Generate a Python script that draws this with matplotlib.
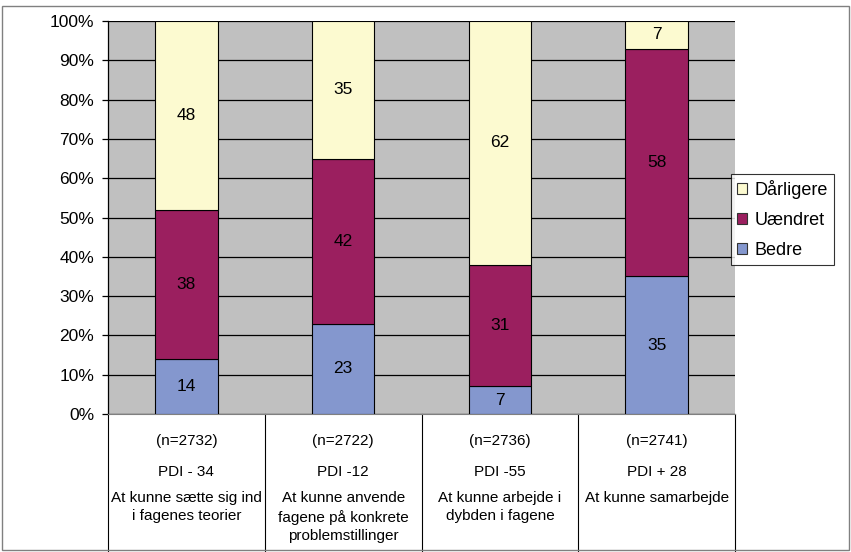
import matplotlib
matplotlib.use("Agg")
import matplotlib.pyplot as plt
from matplotlib.patches import Rectangle

categories_n = ["(n=2732)", "(n=2722)", "(n=2736)", "(n=2741)"]
categories_pdi = ["PDI - 34", "PDI -12", "PDI -55", "PDI + 28"]
categories_desc = ["At kunne sætte sig ind\ni fagenes teorier",
                   "At kunne anvende\nfagene på konkrete\nproblemstillinger",
                   "At kunne arbejde i\ndybden i fagene",
                   "At kunne samarbejde"]
bedre = [14, 23, 7, 35]
uaendret = [38, 42, 31, 58]
darligere = [48, 35, 62, 7]
series_names = ["Bedre", "Uændret", "Dårligere"]
colors = ["#8497CE", "#9B1F5F", "#FCFAD0"]

plt.rcParams['font.family'] = ["Liberation Sans", 'DejaVu Sans']

W, H = 851, 552
fig = plt.figure(figsize=(W / 100, H / 100), dpi=100)
L, R, T, B = 108, 735, 21, 414
ax = fig.add_axes([L / W, (H - B) / H, (R - L) / W, (B - T) / H])
ax.set_facecolor("#C0C0C0")

x = list(range(len(bedre)))
bw = 0.4
bottoms = [0] * len(x)
for vals, name, col in zip([bedre, uaendret, darligere], series_names, colors):
    ax.bar(x, vals, bw, bottom=bottoms, color=col, edgecolor="black", linewidth=0.8,
           label=name, zorder=3)
    for xi, v, b in zip(x, vals, bottoms):
        ax.text(xi, b + v / 2, str(v), ha="center", va="center", fontsize=12.5, zorder=4)
    bottoms = [b + v for b, v in zip(bottoms, vals)]

ax.set_xlim(-0.5, len(x) - 0.5)
ax.set_ylim(0, 100)
ax.set_yticks(range(0, 101, 10))
ax.set_yticklabels([f"{v}%" for v in range(0, 101, 10)], fontsize=12.5)
ax.yaxis.grid(True, color="black", linewidth=0.9, zorder=1)
ax.set_axisbelow(True)
ax.tick_params(axis="y", length=4, width=0.9, pad=6)
ax.set_xticks([])
for s in ["top", "right"]:
    ax.spines[s].set_visible(False)
ax.spines["bottom"].set_color("#808080")
ax.spines["left"].set_color("black")
ax.spines["left"].set_linewidth(0.9)

# category table below the axis
tr = ax.get_xaxis_transform()
ybot = -(H - B) / (B - T)
for b in [-0.5 + i for i in range(len(x) + 1)]:
    ax.plot([b, b], [0, ybot], transform=tr, color="black", linewidth=0.8, clip_on=False)
px = 1 / (B - T)
for xi in x:
    ax.text(xi, -27 * px, categories_n[xi], transform=tr, ha="center", va="center",
            fontsize=11)
    ax.text(xi, -58 * px, categories_pdi[xi], transform=tr, ha="center", va="center",
            fontsize=11)
    ax.text(xi, -77 * px, categories_desc[xi], transform=tr, ha="center", va="top",
            fontsize=11, linespacing=1.4)

handles, labels = ax.get_legend_handles_labels()
leg = fig.legend(handles[::-1], labels[::-1], loc="upper left",
                 bbox_to_anchor=(731 / W, 1 - 174 / H), fontsize=13,
                 frameon=True, fancybox=False, edgecolor="black", handlelength=0.55,
                 handleheight=0.55, handletextpad=0.4, borderpad=0.35, labelspacing=0.7,
                 borderaxespad=0)
leg.get_frame().set_linewidth(0.8)
for h in leg.legend_handles:
    h.set_edgecolor("#333333")
    h.set_linewidth(0.8)

fig.patches.append(Rectangle((2 / W, 2 / H), 847 / W, 544 / H, transform=fig.transFigure,
                             fill=False, edgecolor="#808080", linewidth=1))
fig.savefig("out.png", dpi=100, facecolor="white")
